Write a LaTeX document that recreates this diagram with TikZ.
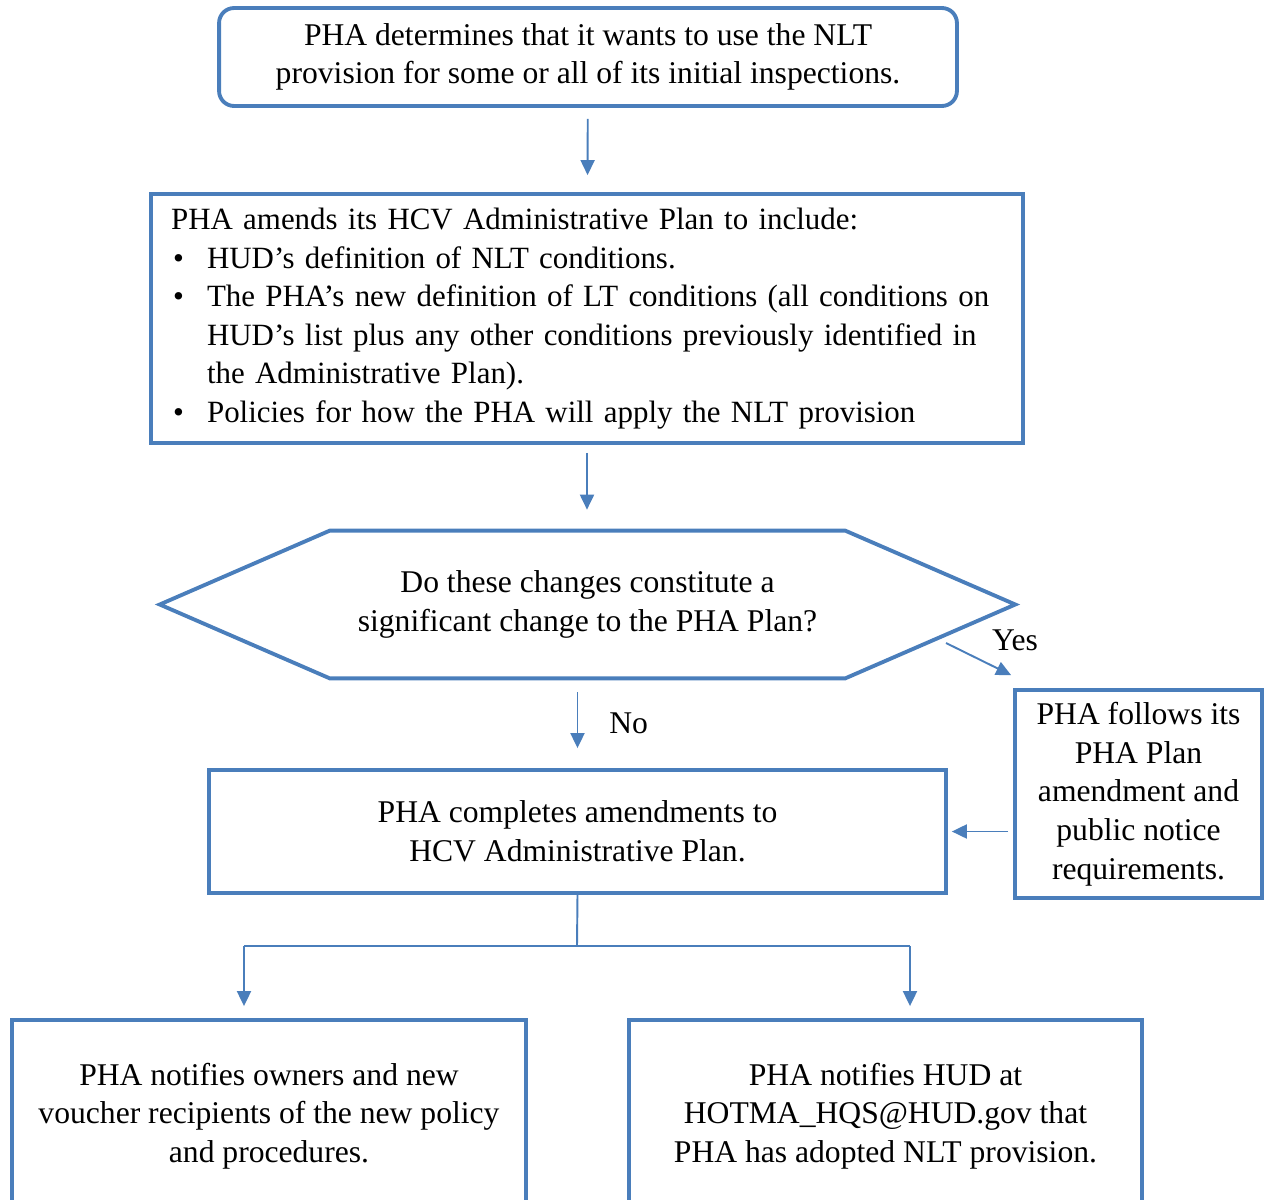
\documentclass[tikz,border=0pt]{standalone}
\usepackage{fontspec}
\setmainfont{Liberation Serif}
\usetikzlibrary{arrows.meta}
\definecolor{flowblue}{RGB}{74,126,187}
\newcommand{\bulletline}[1]{\mbox{\makebox[0.72cm][l]{\hspace{0.04cm}\textbullet}#1}}

\begin{document}
\begin{tikzpicture}[
  x=0.02cm, y=-0.02cm,
  every node/.style={font=\fontsize{18}{22}\selectfont},
  stepbox/.style={draw=flowblue, line width=2.2pt, inner sep=0pt, align=center},
  flow/.style={draw=flowblue, line width=1.1pt, -{Triangle[length=0.3cm, width=0.28cm]}},
  link/.style={draw=flowblue, line width=1.1pt}
]
\useasboundingbox (0,0) rectangle (1265,1200);

%% STEPS
% Decision to use the provision
\node[stepbox, rounded corners=0.3cm, minimum width=14.76cm, minimum height=1.96cm]
  (decide) at (588,57)
  {PHA determines that it wants to use the NLT\\provision for some or all of its initial inspections.};

% Amend the administrative plan
\node[stepbox, align=left, text width=16.64cm, inner xsep=0.4cm, minimum height=4.98cm,
      font=\fontsize{17.6}{21.9}\selectfont]
  (amend) at (587,318.5)
  {PHA amends its HCV Administrative Plan to include:\\
   \bulletline{HUD’s definition of NLT conditions.}\\
   \bulletline{The PHA’s new definition of LT conditions (all conditions on}\\
   \mbox{\hspace*{0.72cm}HUD’s list plus any other conditions previously identified in}\\
   \mbox{\hspace*{0.72cm}the Administrative Plan).}\\
   \bulletline{Policies for how the PHA will apply the NLT provision}};

% Significant change question
\node[minimum width=17.1cm, minimum height=2.94cm, inner sep=0pt, align=center]
  (question) at (587.5,604.5)
  {Do these changes constitute a\\significant change to the PHA Plan?};
\draw[draw=flowblue, line width=2.2pt]
  (question.west) -- ([xshift=3.4cm]question.north west)
  -- ([xshift=-3.4cm]question.north east) -- (question.east)
  -- ([xshift=-3.4cm]question.south east) -- ([xshift=3.4cm]question.south west)
  -- cycle;

% Completion and the plan amendment branch
\node[stepbox, minimum width=14.74cm, minimum height=2.46cm]
  (complete) at (577.5,831.5)
  {PHA completes amendments to\\HCV Administrative Plan.};
\node[stepbox, minimum width=4.94cm, minimum height=4.16cm]
  (follow) at (1138.5,794)
  {PHA follows its\\PHA Plan\\amendment and\\public notice\\requirements.};

% Notifications
\node[stepbox, minimum width=10.28cm, minimum height=3.84cm]
  (owners) at (269,1116)
  {PHA notifies owners and new\\voucher recipients of the new policy\\and procedures.};
\node[stepbox, minimum width=10.26cm, minimum height=3.84cm]
  (hud) at (885.5,1116)
  {PHA notifies HUD at\\HOTMA\_HQS@HUD.gov that\\PHA has adopted NLT provision.};

%% CONNECTORS
\draw[flow, shorten <=0.22cm, shorten >=0.34cm] (decide) -- (amend);
\draw[flow, shorten <=0.16cm, shorten >=0.42cm] (amend) -- (amend.south |- question.north);

% No
\draw[flow, shorten <=0.28cm, shorten >=0.4cm] (question.south -| complete.north) -- (complete.north)
  node[pos=0.5, right=0.5cm] (no) {No};

% Yes
\coordinate (yesstart) at (946,643);
\draw[flow] (yesstart) -- ([shift={(-2,-13)}]follow.north west);
\node (yes) at (1015,640) {Yes};

\draw[flow, shorten <=0.1cm, shorten >=0.08cm] (follow.west |- complete.east) -- (complete.east);

% Split to both notifications
\coordinate (split) at (577,946);
\coordinate (lbranch) at (244,946);
\coordinate (rbranch) at (910,946);
\draw[link] (complete.south) -- (split);
\draw[link] (lbranch) -- (rbranch);
\draw[flow, shorten >=0.24cm] (lbranch) -- (lbranch |- owners.north);
\draw[flow, shorten >=0.24cm] (rbranch) -- (rbranch |- hud.north);

\end{tikzpicture}
\end{document}
